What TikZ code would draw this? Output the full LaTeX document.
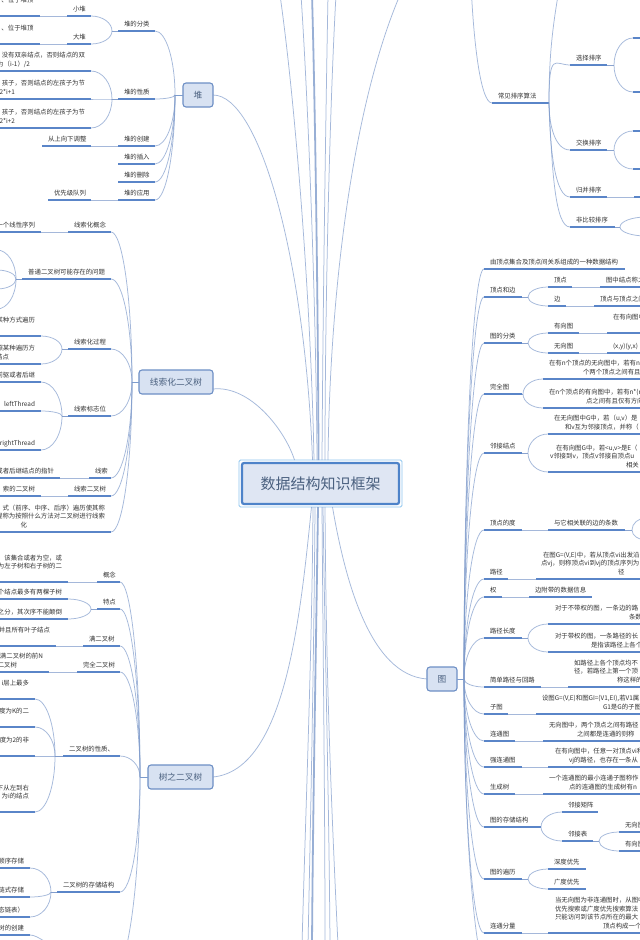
\documentclass[tikz,border=0pt]{standalone}
\usepackage{fontspec}
\setmainfont{Noto Sans CJK SC}
\usetikzlibrary{calc}
\definecolor{ulinec}{HTML}{5A85C8}
\definecolor{connc}{HTML}{7F9BCB}
\definecolor{stubc}{HTML}{7D9CCD}
\definecolor{txtc}{HTML}{333333}
\definecolor{sidef}{HTML}{D8E2F2}
\definecolor{sided}{HTML}{6D8FC5}
\definecolor{ctrf}{HTML}{DFE6F3}
\definecolor{ctrd}{HTML}{4E83C9}
\definecolor{ctrh}{HTML}{8FC6EF}
\definecolor{ctrt}{HTML}{4A607F}
\tikzset{
  topic/.style={inner xsep=6pt,inner ysep=2.8pt,outer sep=0pt,text=txtc,
    font=\fontsize{6.4pt}{8.8pt}\selectfont,
    execute at end node={\rule[-1.5pt]{0pt}{1pt}}},
  uline/.style={draw=ulinec,line width=1.2pt},
  conn/.style={draw=connc,draw opacity=.7,line width=.75pt},
  stubl/.style={draw=stubc,line width=1pt},
  heavy/.style={draw=connc,draw opacity=.8,line width=1.8pt},
  sidebox/.style={draw=sided,fill=sidef,line width=1.1pt,rounded corners=3pt,inner sep=0pt,outer sep=0pt,
    text=ctrt,font=\fontsize{8.7pt}{10pt}\selectfont,minimum height=24pt},
  ctrhalo/.style={draw=ctrh,line width=.9pt,rounded corners=1.5pt,minimum width=163pt,minimum height=47pt,inner sep=0pt,outer sep=0pt},
  ctrbox/.style={draw=ctrd,fill=ctrf,line width=2.2pt,rounded corners=2pt,minimum width=157pt,minimum height=41pt,inner sep=0pt,outer sep=0pt,
    text=ctrt,font=\fontsize{15pt}{17pt}\selectfont}
}
\newcommand\tpL[6][]{%
  \pgfmathsetmacro\tw{#4-#3-12}%
  \node[topic,align=right,text width=\tw pt,anchor=south west,#1] (#2) at (#3,#5) {#6};
  \draw[uline] (#2.south west) -- (#2.south east);}
\newcommand\tpR[6][]{%
  \pgfmathsetmacro\tw{#4-#3-12}%
  \node[topic,align=left,text width=\tw pt,anchor=south west,#1] (#2) at (#3,#5) {#6};
  \draw[uline] (#2.south west) -- (#2.south east);}
\newcommand\ind[1]{\hspace*{#1pt}}
\newcommand\mmcurve[2]{\draw[conn] let \p1=(#1),\p2=(#2) in (\p1) .. controls ({\x1},{\y1+.55*(\y2-\y1)}) and ({\x1+.45*(\x2-\x1)},{\y2}) .. (\p2);}
\newcommand\linkL[3][6]{\coordinate (tmpj) at ([xshift=-#1pt]#2.south west);
  \draw[conn] (#2.south west) -- (tmpj); \mmcurve{tmpj}{#3}}
\newcommand\linkR[3][6]{\coordinate (tmpj) at ([xshift=#1pt]#2.south east);
  \draw[conn] (#2.south east) -- (tmpj); \mmcurve{tmpj}{#3}}
\begin{document}
\begin{tikzpicture}[x=1pt,y=-1pt]
\useasboundingbox (0,0) rectangle (640,940);
\clip (0,0) rectangle (640,940);
\fill[white] (0,0) rectangle (640,940);
% ---- centre and main boxes
\node[ctrhalo] (ctrH) at (320.5,483.5) {};
\node[ctrbox] (ctr) at (320.5,483.5) {数据结构知识框架};
\node[sidebox,minimum width=30pt] (hj) at (198,95) {堆};
\node[sidebox,minimum width=74pt] (xs) at (176,382) {线索化二叉树};
\node[sidebox,minimum width=65pt] (sh) at (180.5,777) {树之二叉树};
\node[sidebox,minimum width=30pt] (tu) at (442,679) {图};
\coordinate (hjT) at ([xshift=-8pt]hj.west);
\coordinate (xsT) at ([xshift=-7pt]xs.west);
\coordinate (shT) at ([xshift=-8pt]sh.west);
\coordinate (tuT) at ([xshift=7pt]tu.east);
\draw[stubl] (hj.west) -- (hjT);
\draw[stubl] (xs.west) -- (xsT);
\draw[stubl] (sh.west) -- (shT);
\draw[stubl] (tu.east) -- (tuT);
% ---- centre links
\draw[conn] ([xshift=-8pt]ctrH.north) .. controls (305,260) and (260,95) .. (hj.east);
\draw[conn] ([xshift=-26pt]ctrH.north) .. controls (285,430) and (250,385) .. ([yshift=-7pt]xs.east);
\draw[conn] ([xshift=-9pt]ctrH.south) .. controls (300,620) and (285,770) .. (sh.east);
\draw[conn] ([xshift=12pt]ctrH.south) .. controls (345,580) and (370,675) .. (tu.west);
\coordinate (upA) at (280,-5);
\coordinate (upB) at (301,-5);
\coordinate (upC) at (312,-5);
\coordinate (upD) at (328,-5);
\coordinate (upE) at (336,-5);
\coordinate (upF) at (400,-5);
\coordinate (dnA) at (302,945);
\coordinate (dnB) at (308,945);
\coordinate (dnC) at (312,945);
\coordinate (dnD) at (325,945);
\coordinate (dnE) at (330,945);
\coordinate (dnF) at (338,945);
\draw[conn] ([xshift=-6.5pt]ctrH.north) .. controls (311,300) and (295,100) .. (upA);
\draw[conn] ([xshift=-3.5pt]ctrH.north) .. controls (316,300) and (308,100) .. (upB);
\draw[heavy] ([xshift=-2pt]ctrH.north) .. controls (318,300) and (315,100) .. (upC);
\draw[conn] ([xshift=1.5pt]ctrH.north) .. controls (323,300) and (326,100) .. (upD);
\draw[conn] ([xshift=4.5pt]ctrH.north) .. controls (325,300) and (330,100) .. (upE);
\draw[conn] ([xshift=7.5pt]ctrH.north) .. controls (330,280) and (355,100) .. (upF);
\draw[conn] ([xshift=-7.5pt]ctrH.south) .. controls (312,650) and (306,800) .. (dnA);
\draw[conn] ([xshift=-5.5pt]ctrH.south) .. controls (314,650) and (311,800) .. (dnB);
\draw[heavy] ([xshift=-2.5pt]ctrH.south) .. controls (316,650) and (313,800) .. (dnC);
\draw[conn] ([xshift=1.5pt]ctrH.south) .. controls (323,650) and (325,800) .. (dnD);
\draw[conn] ([xshift=2.5pt]ctrH.south) .. controls (325,650) and (329,800) .. (dnE);
\draw[conn] ([xshift=4.5pt]ctrH.south) .. controls (326,650) and (329,760) .. (dnF);
% ---- heap
\tpL{hjf}{118}{155}{31}{堆的分类}
\tpL{hjx}{118}{155}{99}{堆的性质}
\tpL{hjc}{118}{155}{146}{堆的创建}
\tpL{hjr}{118}{155}{164}{堆的插入}
\tpL{hjd}{118}{155}{182}{堆的删除}
\tpL{hjy}{118}{155}{200}{堆的应用}
\tpL{hxd}{67}{91}{16}{小堆}
\tpL{hdd}{67}{91}{44}{大堆}
\tpL{hxda}{-80}{39.5}{16}{、位于堆顶\\~}
\tpL{hdda}{-80}{39.5}{44}{、位于堆顶\\~}
\tpL{hxa}{-80}{91}{71}{没有双亲结点，否则结点的双\\为（i-1）/2\ind{55}}
\tpL{hxb}{-80}{91}{99}{孩子，否则结点的左孩子为节\\2*i+1\ind{70}}
\tpL{hxc}{-80}{91}{128}{孩子，否则结点的左孩子为节\\2*i+2\ind{70}}
\tpL{hca}{42}{91}{146}{从上向下调整}
\tpL{hya}{48}{91}{200}{优先级队列}
\foreach \c in {hjf,hjx,hjc,hjr,hjd,hjy}{\mmcurve{hjT}{\c.south east}}
\linkL{hjf}{hxd.south east}
\linkL{hjf}{hdd.south east}
\draw[conn] (hxd.south west) -- (hxda.south east);
\draw[conn] (hdd.south west) -- (hdda.south east);
\linkL{hjx}{hxa.south east}
\linkL{hjx}{hxb.south east}
\linkL{hjx}{hxc.south east}
\draw[conn] (hjc.south west) -- (hca.south east);
\draw[conn] (hjy.south west) -- (hya.south east);
% ---- threaded binary tree
\tpL{xgn}{68}{111}{232}{线索化概念}
\tpL{xpt}{22}{111}{279}{普通二叉树可能存在的问题}
\tpL{xgc}{68}{111}{349}{线索化过程}
\tpL{xbz}{68}{111}{416}{线索标志位}
\tpL{xsu}{89}{111}{478}{线索}
\tpL{xer}{68}{111}{496}{线索二叉树}
\tpL{xbt}{-80}{111}{532}{式（前序、中序、后序）遍历使其称\\程称为按照什么方法对二叉树进行线索\\化\ind{78}}
\tpL{xga}{-80}{41}{232}{一个线性序列}
\tpL{xca}{-80}{41}{336}{某种方式遍历\\~}
\tpL{xcb}{-80}{41}{364}{照某种遍历方\\结点\ind{26}}
\tpL{xba}{-80}{41}{382}{前驱或者后继}
\tpL{xbb}{-80}{41}{411}{leftThread}
\tpL{xbc}{-80}{41}{450}{rightThread}
\tpL{xsa}{-80}{60}{478}{或者后继结点的指针}
\tpL{xea}{-80}{41}{496}{索的二叉树}
\coordinate (xpA) at (-3,250);
\coordinate (xpB) at (-3,270);
\coordinate (xpC) at (-3,289);
\coordinate (xpD) at (-3,309);
\foreach \c in {xgn,xpt,xgc,xbz,xsu,xer,xbt}{\mmcurve{xsT}{\c.south east}}
\draw[conn] (xgn.south west) -- (xga.south east);
\linkL{xpt}{xpA}
\linkL{xpt}{xpB}
\linkL{xpt}{xpC}
\linkL{xpt}{xpD}
\linkL{xgc}{xca.south east}
\linkL{xgc}{xcb.south east}
\linkL{xbz}{xba.south east}
\linkL{xbz}{xbb.south east}
\linkL{xbz}{xbc.south east}
\draw[conn] (xsu.south west) -- (xsa.south east);
\draw[conn] (xer.south west) -- (xea.south east);
% ---- binary tree
\tpL{sgn}{97}{120}{582}{概念}
\tpL{std}{97}{120}{609}{特点}
\tpL{smb}{83}{120}{646}{满二叉树}
\tpL{swq}{77}{120}{672}{完全二叉树}
\tpL{sxz}{63}{120}{756}{二叉树的性质、}
\tpL{scc}{57}{120}{892}{二叉树的存储结构}
\coordinate (shOff) at (112,975);
\foreach \c in {sgn,std,smb,swq,sxz,scc}{\mmcurve{shT}{\c.south east}}
\mmcurve{shT}{shOff}
\tpL{sga}{-80}{68}{582}{该集合或者为空，或\\为左子树和右子树的二\\~}
\tpL{sta}{-80}{68}{599}{个结点最多有两棵子树}
\tpL{stb}{-80}{68}{619}{之分，其次序不能颠倒}
\tpL{sma}{-80}{56}{646}{并且所有叶子结点\\~}
\tpL{swa}{-80}{49}{672}{满二叉树的前N\\二叉树\ind{26}}
\tpL{sxa}{-80}{35}{699}{i层上最多\\~}
\tpL{sxb}{-80}{35}{727}{度为K的二\\~}
\tpL{sxc}{-80}{35}{756}{度为2的非\\~}
\tpL{sxd}{-80}{35}{812}{下从左到右\\为i的结点\ind{2}\\~}
\tpL{sca}{-80}{30}{868}{顺序存储}
\tpL{scb}{-80}{30}{897}{链式存储}
\tpL{scd}{-80}{30}{917}{态链表）}
\tpL{sde}{-80}{30}{935}{树的创建}
\coordinate (sdeP) at (75,965);
\draw[conn] (sde.south east) .. controls (38,935) and (50,945) .. (sdeP);
\draw[conn] (sgn.south west) -- (sga.south east);
\linkL{std}{sta.south east}
\linkL{std}{stb.south east}
\draw[conn] (smb.south west) -- (sma.south east);
\draw[conn] (swq.south west) -- (swa.south east);
\linkL[8]{sxz}{sxa.south east}
\linkL[8]{sxz}{sxb.south east}
\linkL[8]{sxz}{sxc.south east}
\linkL[8]{sxz}{sxd.south east}
\linkL{scc}{sca.south east}
\linkL{scc}{scb.south east}
\linkL{scc}{scd.south east}
% ---- sorting
\tpR{pgx}{492}{549}{103}{常见排序算法}
\tpR{pxz}{570}{607}{65}{选择排序}
\tpR{pjh}{570}{607}{150}{交换排序}
\tpR{pgb}{570}{607}{197}{归并排序}
\tpR{pfb}{570}{615}{227}{非比较排序}
\tpR{pxa}{633}{680}{38}{~}
\tpR{pxb}{633}{680}{92}{~}
\tpR{pja}{633}{680}{131}{~}
\tpR{pjb}{633}{680}{169}{~}
\tpR{pga}{634}{680}{197}{~}
\coordinate (pgUp) at (470,-45);
\coordinate (pxUp) at (578,-100);
\coordinate (pfA) at (646,217);
\coordinate (pfB) at (646,236);
\draw[conn] (pgUp) .. controls (472,35) and (480,103) .. (pgx.south west);
\draw[conn] (pgx.south east) .. controls (549,40) and (555,0) .. (pxUp);
\draw[conn] (pgx.south east) .. controls (549,50) and (555,65) .. (pxz.south west);
\draw[conn] (pgx.south east) .. controls (549,125) and (555,150) .. (pjh.south west);
\draw[conn] (pgx.south east) .. controls (550,150) and (555,197) .. (pgb.south west);
\draw[conn] (pgx.south east) .. controls (552,170) and (555,227) .. (pfb.south west);
\linkR[7]{pxz}{pxa.south west}
\linkR[7]{pxz}{pxb.south west}
\linkR[7]{pjh}{pja.south west}
\linkR[7]{pjh}{pjb.south west}
\draw[conn] (pgb.south east) -- (pga.south west);
\linkR[5]{pfb}{pfA}
\linkR[5]{pfb}{pfB}
% ---- graph
\tpR{gd}{484}{625}{269}{由顶点集合及顶点间关系组成的一种数据结构}
\tpR{gdb}{484}{522}{297}{顶点和边}
\tpR{gfl}{484}{522}{343}{图的分类}
\tpR{gwq}{484}{522}{394}{完全图}
\tpR{glj}{484}{522}{453}{邻接结点}
\tpR{gdu}{484}{522}{530}{顶点的度}
\tpR{glu}{484}{508}{579}{路径}
\tpR{gqa}{484}{502}{597}{权}
\tpR{gcd}{484}{522}{638}{路径长度}
\tpR{gjd}{484}{541}{687}{简单路径与回路}
\tpR{gzt}{484}{508}{714}{子图}
\tpR{glt}{484}{515}{741}{连通图}
\tpR{gql}{484}{522}{767}{强连通图}
\tpR{gsc}{484}{515}{794}{生成树}
\tpR{gcc}{484}{541}{827}{图的存储结构}
\tpR{gbl}{484}{522}{879}{图的遍历}
\tpR{gfz}{484}{522}{933}{连通分量}
\coordinate (guOff) at (492,985);
\foreach \c in {gd,gdb,gfl,gwq,glj,gdu,glu,gqa,gcd,gjd,gzt,glt,gql,gsc,gcc,gbl,gfz}{\mmcurve{tuT}{\c.south west}}
\mmcurve{tuT}{guOff}
\tpR{gda}{548}{572}{287}{顶点}
\tpR{gdc}{548}{566}{306}{边}
\tpR{gdaa}{600}{680}{287}{图中结点称之}
\tpR{gdcc}{594}{680}{306}{顶点与顶点之间}
\linkR{gdb}{gda.south west}
\linkR{gdb}{gdc.south west}
\draw[conn] (gda.south east) -- (gdaa.south west);
\draw[conn] (gdc.south east) -- (gdcc.south west);
\tpR{gfa}{548}{579}{333}{有向图}
\tpR{gfb}{548}{579}{353}{无向图}
\tpR{gfaa}{607}{680}{333}{在有向图中\\~}
\tpR{gfbb}{607}{680}{353}{(x,y)(y,x)}
\linkR{gfl}{gfa.south west}
\linkR{gfl}{gfb.south west}
\draw[conn] (gfa.south east) -- (gfaa.south west);
\draw[conn] (gfb.south east) -- (gfbb.south west);
\tpR{gwa}{543}{680}{379}{在有n个顶点的无向图中，若有n\\\ind{34}个两个顶点之间有且}
\tpR{gwb}{543}{680}{408}{在n个顶点的有向图中，若有n*(n\\\ind{37}点之间有且仅有方向}
\linkR[1]{gwq}{gwa.south west}
\linkR[1]{gwq}{gwb.south west}
\tpR{gla}{548}{680}{434}{在无向图中G中，若（u,v）是\\\ind{11}和v互为邻接顶点，并称（}
\tpR{glb}{548}{680}{472}{\ind{2}在有向图G中，若<u,v>是E（\\\ind{-4}v邻接到v，顶点v邻接自顶点u\\\ind{72}相关}
\linkR{glj}{gla.south west}
\linkR{glj}{glb.south west}
\tpR{gua}{548}{625}{530}{与它相关联的边的条数}
\coordinate (guA) at (646,518);
\coordinate (guB) at (646,540);
\draw[conn] (gdu.south east) -- (gua.south west);
\linkR[7]{gua}{guA}
\linkR[7]{gua}{guB}
\tpR{gpa}{536}{680}{579}{\ind{1}在图G=(V,E)中，若从顶点vi出发沿\\\ind{-1}点vj，则称顶点vi到vj的顶点序列为\\\ind{76}径}
\draw[conn] (glu.south east) -- (gpa.south west);
\tpR{gqb}{529}{592}{597}{边附带的数据信息}
\draw[conn] (gqa.south east) -- (gqb.south west);
\tpR{gca}{548}{680}{624}{\ind{1}对于不带权的图，一条边的路\\\ind{75}条数}
\tpR{gcb}{548}{680}{652}{\ind{1}对于带权的图，一条路径的长\\\ind{37}是指该路径上各个}
\linkR{gcd}{gca.south west}
\linkR{gcd}{gcb.south west}
\tpR{gja}{568}{680}{687}{如路径上各个顶点均不\\径，若路径上第一个顶\\\ind{43}称这样的}
\draw[conn] (gjd.south east) -- (gja.south west);
\tpR{gza}{536}{680}{714}{设图G=(V,E)和图GI=(V1,EI),若V1属\\\ind{61}G1是G的子图}
\draw[conn] (gzt.south east) -- (gza.south west);
\tpR{gta}{543}{680}{741}{无向图中，两个顶点之间有路径\\\ind{28}之间都是连通的则称}
\draw[conn] (glt.south east) -- (gta.south west);
\tpR{gqc}{548}{680}{767}{\ind{1}在有向图中，任意一对顶点vi和\\\ind{15}vj的路径，也存在一条从}
\draw[conn] (gql.south east) -- (gqc.south west);
\tpR{gsa}{543}{680}{794}{一个连通图的最小连通子图称作\\\ind{20}点的连通图的生成树有n}
\draw[conn] (gsc.south east) -- (gsa.south west);
\tpR{gma}{562}{598}{812}{邻接矩阵}
\tpR{gmb}{562}{593}{841}{邻接表}
\linkR[0]{gcc}{gma.south west}
\linkR[0]{gcc}{gmb.south west}
\tpR{gmc}{619}{680}{832}{无向图的}
\tpR{gmd}{619}{680}{851}{有向图的}
\linkR{gmb}{gmc.south west}
\linkR{gmb}{gmd.south west}
\tpR{gba}{548}{586}{869}{深度优先}
\tpR{gbb}{548}{586}{889}{广度优先}
\linkR{gbl}{gba.south west}
\linkR{gbl}{gbb.south west}
\tpR{gfc}{548}{680}{933}{\ind{1}当无向图为非连通图时，从图中\\\ind{1}优先搜索或广度优先搜索算法\\\ind{1}只能访问到该节点所在的最大\\\ind{49}顶点构成一个}
\draw[conn] (gfz.south east) -- (gfc.south west);
\end{tikzpicture}
\end{document}
